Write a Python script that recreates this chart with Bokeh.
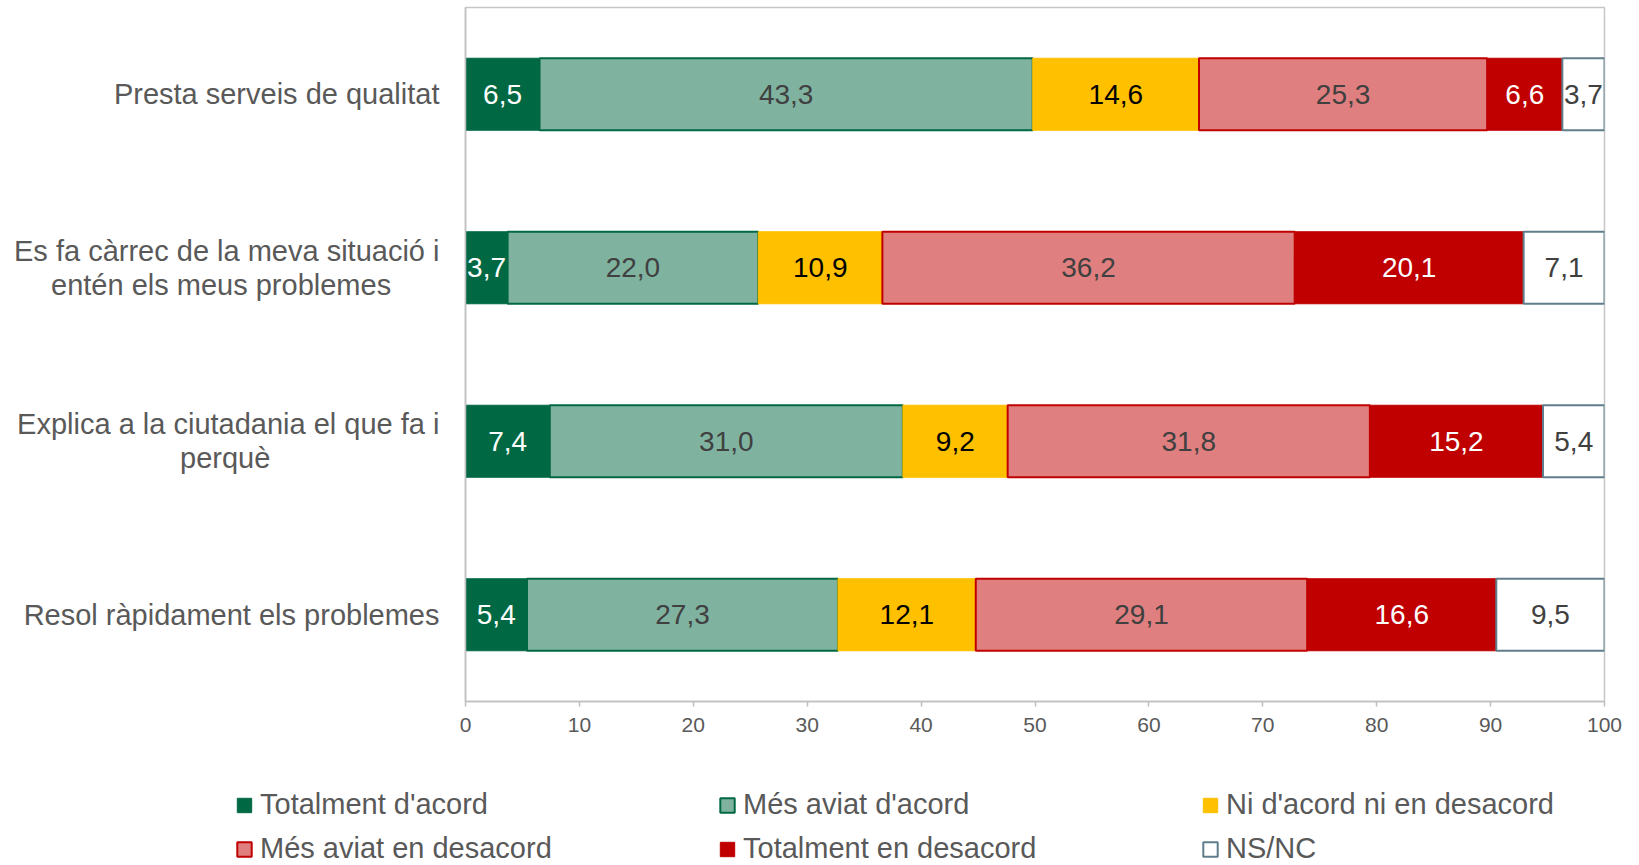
from bokeh.plotting import figure
from bokeh.layouts import column
from bokeh.models import ColumnDataSource, FactorRange, Range1d, Legend, LegendItem, FixedTicker
from bokeh.core.properties import value
from bokeh.embed import file_html
from bokeh.resources import INLINE

# ---- data ----
categories = [
    "Presta serveis de qualitat",
    "Es fa càrrec de la meva situació i\nentén els meus problemes",
    "Explica a la ciutadania el que fa i\nperquè",
    "Resol ràpidament els problemes",
]
series_names = [
    "Totalment d'acord",
    "Més aviat d'acord",
    "Ni d'acord ni en desacord",
    "Més aviat en desacord",
    "Totalment en desacord",
    "NS/NC",
]
totalment_acord = [6.5, 3.7, 7.4, 5.4]
mes_aviat_acord = [43.3, 22.0, 31.0, 27.3]
ni_acord_ni_desacord = [14.6, 10.9, 9.2, 12.1]
mes_aviat_desacord = [25.3, 36.2, 31.8, 29.1]
totalment_desacord = [6.6, 20.1, 15.2, 16.6]
ns_nc = [3.7, 7.1, 5.4, 9.5]
x_ticks = [0, 10, 20, 30, 40, 50, 60, 70, 80, 90, 100]

series_values = [totalment_acord, mes_aviat_acord, ni_acord_ni_desacord,
                 mes_aviat_desacord, totalment_desacord, ns_nc]

# ---- styles ----
fills = ["#006944", "#7FB3A0", "#FFC000", "#E07F7F", "#C00000", "#FFFFFF"]
lines = ["#006944", "#006944", "#FFC000", "#C00000", "#C00000", "#607D8B"]
line_widths = [1, 2, 1, 2, 1, 2]
text_colors = ["#FFFFFF", "#404040", "#000000", "#404040", "#FFFFFF", "#404040"]
FONT = "Liberation Sans"
GRAY = "#595959"
NB = "\u00a0"

# trailing no-break spaces only centre the second line of a wrapped label visually
pad = [0, 6, 21, 0]
factors = [c + NB * n for c, n in zip(categories, pad)]

MAIN_H = 760
LEG_H = 865 - MAIN_H

p = figure(
    width=1639, height=MAIN_H,
    y_range=FactorRange(factors=list(reversed(factors)), range_padding=0),
    x_range=Range1d(0, 100),
    output_backend="svg", toolbar_location=None,
    min_border_left=465, min_border_right=35, min_border_top=7, min_border_bottom=MAIN_H - 701,
)
p.frame_align = False
p.outline_line_color = "#C6C6C6"
p.outline_line_width = 1.5
p.xgrid.visible = False
p.ygrid.visible = False

p.xaxis.ticker = FixedTicker(ticks=x_ticks)
p.xaxis.axis_line_color = "#BFBFBF"
p.xaxis.axis_line_width = 1.5
p.xaxis.major_tick_line_color = "#BFBFBF"
p.xaxis.major_tick_line_width = 1.5
p.xaxis.major_tick_out = 5
p.xaxis.major_tick_in = 0
p.xaxis.minor_tick_line_color = None
p.xaxis.major_label_text_font = FONT
p.xaxis.major_label_text_font_size = "21px"
p.xaxis.major_label_text_color = GRAY
p.xaxis.major_label_standoff = 11

p.yaxis.axis_line_color = "#BFBFBF"
p.yaxis.axis_line_width = 1.5
p.yaxis.major_tick_line_color = None
p.yaxis.minor_tick_line_color = None
p.yaxis.major_label_text_font = FONT
p.yaxis.major_label_text_font_size = "29px"
p.yaxis.major_label_text_color = GRAY
p.yaxis.major_label_text_line_height = 1.07
p.yaxis.major_label_standoff = 20

# legend figure (its hbar copies are hidden; only the legend is shown)
pl = figure(
    width=1639, height=LEG_H,
    y_range=FactorRange(factors=list(reversed(factors)), range_padding=0),
    x_range=Range1d(0, 100),
    output_backend="svg", toolbar_location=None,
    x_axis_location=None, y_axis_location=None, min_border=0,
)
pl.frame_align = False
pl.outline_line_color = None
pl.xgrid.visible = False
pl.ygrid.visible = False

items = []
cum = [0.0] * len(categories)
for i, name in enumerate(series_names):
    vals = series_values[i]
    left = cum[:]
    right = [a + b for a, b in zip(left, vals)]
    mid = [(a + b) / 2 for a, b in zip(left, right)]
    labels = [f"{v:.1f}".replace(".", ",") for v in vals]
    src = ColumnDataSource(dict(y=factors, left=left, right=right, mid=mid, label=labels))
    p.hbar(y="y", left="left", right="right", height=0.415, source=src,
           fill_color=fills[i], line_color=lines[i], line_width=line_widths[i])
    p.text(x="mid", y="y", text="label", source=src,
           text_font=value(FONT), text_font_size="28px", text_color=text_colors[i],
           text_align="center", text_baseline="middle")
    rl = pl.hbar(y="y", left="left", right="right", height=0.415, source=src,
                 fill_color=fills[i], line_color=lines[i], line_width=line_widths[i])
    rl.visible = False
    items.append(LegendItem(label=name, renderers=[rl]))
    cum = right

legend = Legend(
    items=items, orientation="horizontal", ncols=3,
    location=(235, 0),
    glyph_width=18, glyph_height=18, label_standoff=7,
    label_width=447, label_height=33, spacing=11,
    padding=0, margin=0,
    border_line_color=None, background_fill_alpha=0,
    inactive_fill_alpha=0,
    label_text_font=FONT, label_text_font_size="29px", label_text_color=GRAY,
)
pl.add_layout(legend, "center")

layout = column(p, pl, spacing=0)
open("out.html", "w").write(file_html(layout, INLINE))
